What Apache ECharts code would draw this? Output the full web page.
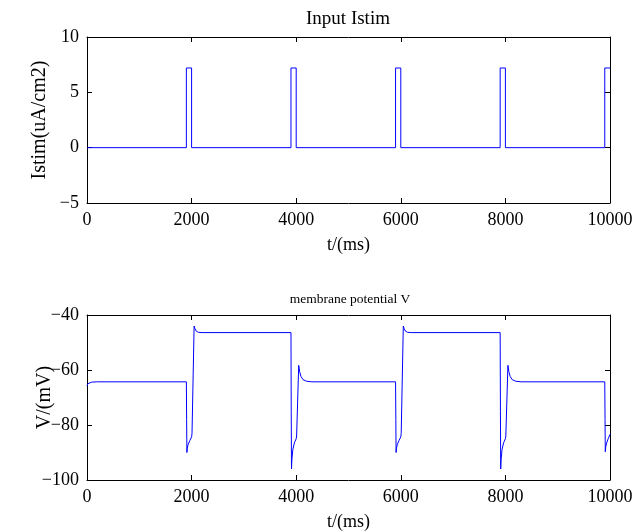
<!DOCTYPE html>
<html>
<head>
<meta charset="utf-8">
<script src="https://cdn.jsdelivr.net/npm/echarts@6/dist/echarts.min.js"></script>
<style>html,body{margin:0;padding:0;background:#fff;}#c{width:644px;height:532px;}</style>
</head>
<body>
<div id="c"></div>
<script>
var xTicks = [0, 2000, 4000, 6000, 8000, 10000];
var istimTicks = [-5, 0, 5, 10];
var vTicks = [-100, -80, -60, -40];

var istim = [
  [0, 0], [1900, 0], [1900, 7.2], [2000, 7.2], [2000, 0],
  [3900, 0], [3900, 7.2], [4000, 7.2], [4000, 0],
  [5900, 0], [5900, 7.2], [6000, 7.2], [6000, 0],
  [7900, 0], [7900, 7.2], [8000, 7.2], [8000, 0],
  [9900, 0], [9900, 7.2], [10000, 7.2]
];

var vm = [
  [0, -65.8], [15, -65], [40, -64.6], [90, -64.4], [200, -64.3],
  [1900, -64.3], [1905, -78], [1910, -90], [1918, -88.4], [1935, -87], [1965, -85.7], [2000, -84.3],
  [2008, -83], [2048, -44], [2065, -45], [2090, -45.9], [2130, -46.3], [2200, -46.4],
  [3900, -46.4], [3905, -75], [3910, -96], [3918, -92.5], [3935, -89], [3965, -86.5], [4000, -85],
  [4008, -84], [4048, -58.3], [4065, -60.5], [4090, -62.3], [4130, -63.5], [4200, -64.1], [4300, -64.3],
  [5900, -64.3], [5905, -78], [5910, -90], [5918, -88.4], [5935, -87], [5965, -85.7], [6000, -84.3],
  [6008, -83], [6048, -44], [6065, -45], [6090, -45.9], [6130, -46.3], [6200, -46.4],
  [7900, -46.4], [7905, -75], [7910, -96], [7918, -92.5], [7935, -89], [7965, -86.5], [8000, -85],
  [8008, -84], [8048, -58.3], [8065, -60.5], [8090, -62.3], [8130, -63.5], [8200, -64.1], [8300, -64.3],
  [9900, -64.3], [9905, -78], [9910, -89.7], [9918, -88], [9935, -86.6], [9965, -85], [10000, -83.4]
];

var FONT = 'Liberation Serif';
function fmt(v) { return String(v).replace('-', '\u2212'); }

function mainX(gi) {
  return {
    type: 'value', gridIndex: gi, position: 'bottom',
    min: xTicks[0], max: xTicks[xTicks.length - 1], interval: xTicks[1] - xTicks[0],
    name: 't/(ms)', nameLocation: 'middle', nameGap: 33, nameMoveOverlap: false,
    nameTextStyle: { fontFamily: FONT, fontSize: 18, color: '#000' },
    axisLine: { show: true, onZero: false, lineStyle: { color: '#000', width: 1 } },
    axisTick: { show: true, inside: true, length: 5, lineStyle: { color: '#000' } },
    axisLabel: { show: true, margin: 8, fontFamily: FONT, fontSize: 18, color: '#000', formatter: fmt },
    splitLine: { show: false }
  };
}
function topX(gi) {
  return {
    type: 'value', gridIndex: gi, position: 'top',
    min: xTicks[0], max: xTicks[xTicks.length - 1], interval: xTicks[1] - xTicks[0],
    axisLine: { show: true, onZero: false, lineStyle: { color: '#000', width: 1 } },
    axisTick: { show: true, inside: true, length: 5, lineStyle: { color: '#000' } },
    axisLabel: { show: false }, splitLine: { show: false }
  };
}
function leftY(gi, ticks, name, gap) {
  return {
    type: 'value', gridIndex: gi, position: 'left',
    min: ticks[0], max: ticks[ticks.length - 1], interval: ticks[1] - ticks[0],
    name: name, nameLocation: 'middle', nameGap: gap, nameMoveOverlap: false,
    nameTextStyle: { fontFamily: FONT, fontSize: 20, color: '#000' },
    axisLine: { show: true, onZero: false, lineStyle: { color: '#000', width: 1 } },
    axisTick: { show: true, inside: true, length: 5, lineStyle: { color: '#000' } },
    axisLabel: { show: true, margin: 8, fontFamily: FONT, fontSize: 18, color: '#000', formatter: fmt },
    splitLine: { show: false }
  };
}
function rightY(gi, ticks) {
  return {
    type: 'value', gridIndex: gi, position: 'right',
    min: ticks[0], max: ticks[ticks.length - 1], interval: ticks[1] - ticks[0],
    axisLine: { show: true, onZero: false, lineStyle: { color: '#000', width: 1 } },
    axisTick: { show: true, inside: true, length: 5, lineStyle: { color: '#000' } },
    axisLabel: { show: false }, splitLine: { show: false }
  };
}

var chart = echarts.init(document.getElementById('c'), null, { renderer: 'canvas' });
chart.setOption({
  animation: false,
  backgroundColor: '#fff',
  title: [
    { text: 'Input Istim', left: 348, top: 10, textAlign: 'center', padding: 0,
      textStyle: { fontFamily: FONT, fontSize: 19, fontWeight: 'normal', color: '#000' } },
    { text: 'membrane potential V', left: 350, top: 292, textAlign: 'center', padding: 0,
      textStyle: { fontFamily: FONT, fontSize: 13.5, fontWeight: 'normal', color: '#000' } }
  ],
  grid: [
    { left: 87, right: 34, top: 37, height: 166 },
    { left: 87, right: 34, top: 315, height: 166 }
  ],
  xAxis: [mainX(0), topX(0), mainX(1), topX(1)],
  yAxis: [
    leftY(0, istimTicks, 'Istim(uA/cm2)', 37), rightY(0, istimTicks),
    leftY(1, vTicks, 'V/(mV)', 32), rightY(1, vTicks)
  ],
  series: [
    { type: 'line', xAxisIndex: 0, yAxisIndex: 0, data: istim, showSymbol: false,
      lineStyle: { color: '#0000ff', width: 1 }, z: 1 },
    { type: 'line', xAxisIndex: 2, yAxisIndex: 2, data: vm, showSymbol: false,
      lineStyle: { color: '#0000ff', width: 1 }, z: 1 }
  ]
});
</script>
</body>
</html>
